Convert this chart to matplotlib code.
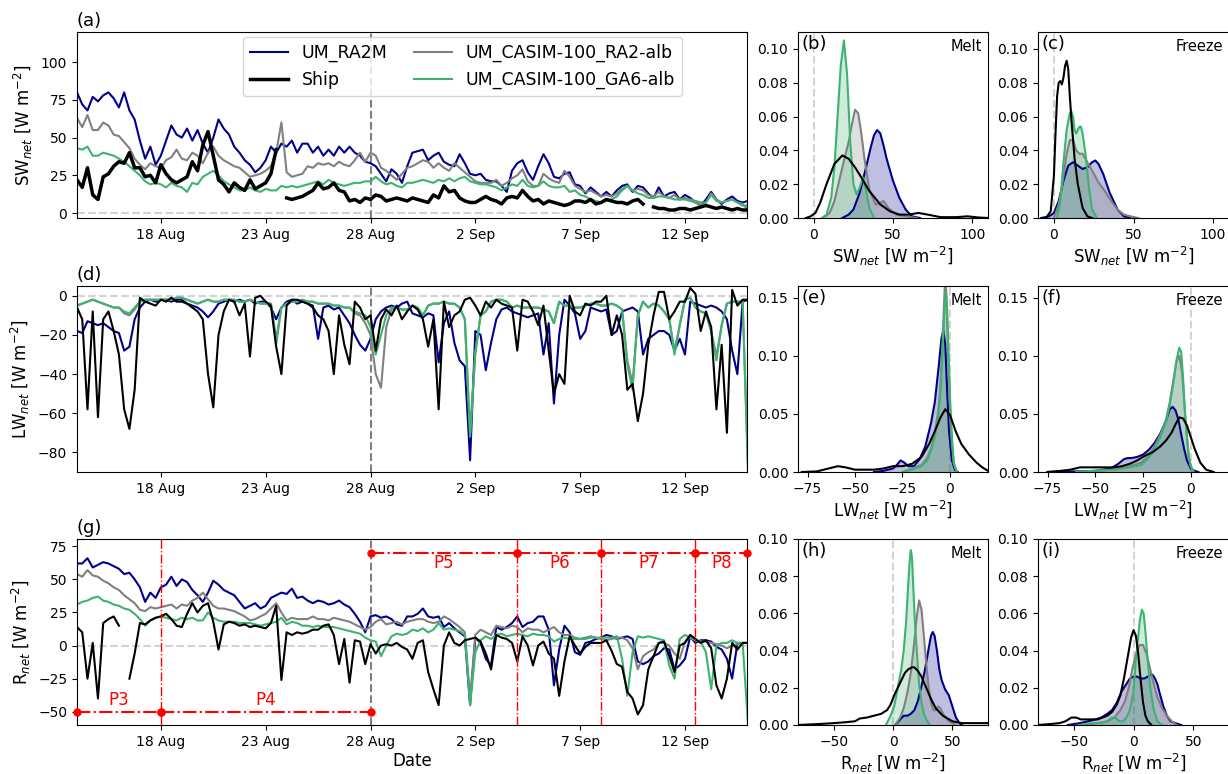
import numpy as np
import pandas as pd
import matplotlib
matplotlib.use('Agg')
import matplotlib.pyplot as plt
import matplotlib.dates as mdates

# 6-hourly time axis, 14 Aug - 15 Sep 2018
times = pd.date_range('2018-08-14', periods=129, freq='6h')
nan = np.nan

# ---- SW net (panel a) ----
sw_ra2m = [80, 72, 68, 77, 74, 78, 80, 76, 70, 80, 68, 62, 48, 36, 44, 32,
           38, 48, 58, 52, 50, 56, 48, 55, 46, 40, 50, 62, 56, 52, 44, 40,
           35, 32, 27, 30, 35, 44, 40, 46, 44, 48, 40, 46, 46, 40, 44, 38,
           42, 38, 44, 40, 44, 40, 38, 34, 33, 31, 26, 21, 29, 26, 20, 31,
           40, 41, 42, 35, 38, 40, 34, 32, 31, 39, 33, 26, 25, 26, 22, 21,
           21, 18, 14, 28, 33, 35, 27, 22, 31, 39, 33, 24, 23, 26, 27, 19,
           18, 13, 17, 14, 11, 14, 11, 15, 18, 19, 14, 18, 17, 13, 10, 17,
           11, 13, 14, 9, 12, 10, 7, 5, 9, 14, 9, 6, 9, 11, 8, 7, 8]
sw_casim_ra2 = [63, 57, 65, 55, 55, 60, 58, 52, 51, 47, 43, 36, 32, 29, 33, 31,
                30, 35, 37, 42, 36, 35, 40, 38, 33, 40, 44, 38, 35, 33, 31, 30,
                27, 24, 25, 26, 28, 31, 40, 60, 27, 24, 25, 26, 31, 30, 33, 32,
                33, 31, 34, 32, 31, 35, 40, 34, 40, 38, 30, 28, 25, 22, 26, 30,
                31, 33, 35, 34, 30, 33, 30, 28, 33, 30, 27, 24, 21, 20, 20, 20,
                22, 18, 20, 23, 25, 29, 21, 18, 18, 26, 23, 21, 20, 28, 24, 18,
                16, 14, 15, 13, 11, 12, 11, 13, 16, 18, 15, 16, 15, 12, 11, 14,
                11, 10, 12, 9, 10, 9, 8, 7, 7, 13, 9, 7, 8, 9, 7, 5, 5]
sw_casim_ga6 = [43, 42, 44, 38, 38, 40, 39, 38, 36, 34, 31, 28, 25, 21, 19, 20,
                19, 17, 20, 18, 17, 14, 20, 19, 24, 26, 28, 25, 21, 19, 17, 15,
                15, 17, 15, 14, 16, 15, 15, 18, 17, 18, 17, 18, 19, 20, 21, 19,
                22, 20, 19, 18, 19, 20, 20, 21, 21, 24, 21, 19, 20, 18, 17, 20,
                20, 21, 22, 21, 20, 22, 21, 23, 21, 23, 24, 21, 20, 19, 19, 18,
                17, 15, 17, 19, 18, 22, 18, 17, 18, 21, 18, 17, 17, 18, 14, 15,
                12, 11, 9, 8, 7, 8, 9, 11, 15, 18, 15, 13, 12, 10, 10, 11,
                11, 10, 9, 9, 9, 8, 7, 5, 7, 12, 8, 7, 8, 9, 7, 6, 2]
sw_ship = [22, 17, 30, 12, 9, 24, 26, 31, 34, 33, 40, 30, 30, 24, 25, 20,
           32, 26, 22, 20, 22, 24, 34, 28, 45, 54, 38, 22, 19, 14, 20, 17,
           15, 22, 16, 18, 20, 26, 42, nan, 10, 9, 10, 11, 13, 15, 20, 16,
           17, 20, 15, 14, 8, 9, 7, 10, 9, 12, 11, 8, 9, 10, 9, 8,
           10, 9, 8, 7, 12, 10, 18, 14, 15, 10, 8, 7, 7, 9, 11, 9,
           8, 6, 10, 11, 10, 15, 11, 8, 9, 6, 8, 7, 6, 5, 6, 8,
           8, 7, 9, 6, 7, 9, 8, 7, 7, 6, 8, 9, 6, nan, 4, 3,
           3, 2, 2, 3, 3, 2, 3, 4, 5, 4, 3, 4, 3, 2, 3, 2, 2]

# ---- LW net (panel d) ----
lw_ra2m = [-18, -19, -13, -14, -15, -14, -16, -18, -19, -28, -26, -12, -6, -3, -2, -3,
           -2, -2, -3, -2, -2, -4, -5, -6, -8, -11, -8, -4, -3, -2, -3, -2,
           -3, -2, -4, -3, -3, -6, -12, -6, -3, -2, -4, -3, -4, -5, -22, -6,
           -5, -7, -6, -10, -14, -20, -25, -28, -22, -12, -8, -6, -5, -6, -4, -3,
           -9, -10, -11, -9, -10, -34, -14, -8, -24, -33, -36, -84, -18, -20, -38, -24,
           -12, -7, -6, -8, -9, -10, -11, -10, -9, -30, -14, -55, -20, -2, -5, -9,
           -22, -18, -6, -7, -8, -7, -20, -18, -8, -7, -6, -8, -30, -22, -20, -18,
           -18, -20, -28, -22, -30, -3, -4, -5, -6, -5, -6, -8, -12, -28, -40, -3, -2]
lw_casim_ra2 = [-5, -4, -3, -2, -3, -4, -5, -6, -6, -9, -10, -7, -3, -2, -2, -2,
                -2, -2, -2, -1, -1, -2, -3, -4, -3, -2, -3, -3, -2, -2, -2, -3,
                -3, -2, -3, -4, -4, -4, -22, -6, -4, -3, -3, -2, -3, -3, -4, -4,
                -4, -5, -5, -6, -6, -9, -10, -14, -20, -40, -47, -16, -7, -6, -7, -7,
                -5, -6, -10, -5, -4, -4, -3, -4, -4, -6, -12, -70, -28, -10, -8, -3,
                -2, -2, -3, -6, -5, -6, -6, -6, -6, -7, -8, -14, -3, -5, -5, -6,
                -6, -5, -4, -4, -5, -5, -4, -5, -7, -33, -45, -10, -3, -6, -4, -5,
                -8, -12, -28, -15, -2, -1, -6, -8, -9, -18, -31, -15, -4, -3, -3, -3, -85]
lw_casim_ga6 = [-5, -4, -3, -2, -3, -4, -5, -6, -6, -8, -9, -6, -3, -2, -2, -2,
                -2, -2, -2, -1, -1, -2, -3, -4, -3, -2, -3, -3, -2, -2, -2, -3,
                -3, -2, -3, -4, -4, -4, -25, -6, -4, -3, -3, -2, -3, -3, -4, -4,
                -4, -5, -5, -6, -6, -8, -9, -10, -16, -30, -20, -10, -6, -6, -7, -7,
                -5, -6, -10, -5, -4, -4, -3, -4, -4, -6, -12, -72, -30, -10, -8, -3,
                -2, -2, -3, -6, -5, -6, -6, -6, -6, -7, -8, -14, -3, -5, -5, -6,
                -6, -5, -4, -4, -5, -5, -4, -5, -7, -35, -48, -10, -3, -6, -4, -5,
                -8, -12, -30, -15, -2, -1, -6, -8, -9, -18, -33, -15, -4, -3, -3, -3, -88]
lw_ship = [-6, -12, -58, -8, -62, -12, -8, -18, -30, -58, -68, -48, -1, -3, -4, -5,
           -2, -3, -1, -3, -3, -4, -6, -8, -12, -40, -57, -20, -8, -2, -3, -10,
           -4, -31, -1, 0, -3, -5, -26, -40, -5, -2, -2, -3, -4, -6, -10, -12,
           -18, -40, -10, -25, -35, -3, -6, -12, -10, -28, -12, -7, -10, -5, -12, -8,
           -5, -7, -12, -26, -12, -58, -3, -16, -10, -8, -2, -1, -5, -10, -3, -6,
           -2, -4, -5, -6, -28, -2, -3, -8, -15, -5, -28, -50, -40, -45, 0, -8,
           -10, -4, -5, -3, -3, 0, -20, -10, -20, -48, -45, -64, -50, -25, -10, 2,
           2, -12, -8, -3, -3, 4, 1, -18, -8, -16, -58, -25, -70, 3, -5, -2, -2]

# ---- R net (panel g) ----
r_ra2m = [62, 62, 66, 59, 61, 63, 62, 60, 58, 54, 55, 50, 44, 33, 40, 36,
          44, 46, 52, 45, 50, 48, 42, 38, 33, 40, 49, 46, 42, 40, 38, 33,
          28, 30, 32, 28, 30, 36, 38, 40, 39, 43, 36, 37, 34, 32, 34, 33,
          31, 32, 34, 31, 29, 24, 18, 10, 22, 23, 21, 22, 20, 16, 15, 22,
          22, 24, 28, 22, 21, 22, 14, 17, 13, 10, 7, -45, 6, 2, -10, -15,
          14, 12, 14, 17, 22, 14, 17, 18, 22, 22, 12, -30, -3, 15, 10, -5,
          -7, 2, 3, 5, 6, 8, 7, 5, 6, 7, 5, -12, -14, -12, -8, -6,
          -2, -3, -18, -15, -10, 7, 2, 4, 4, 3, -1, -3, -10, -25, 2, 2, 2]
r_casim_ra2 = [54, 52, 57, 53, 52, 49, 47, 44, 42, 38, 35, 32, 27, 26, 29, 28,
               29, 30, 31, 28, 31, 30, 34, 36, 40, 35, 30, 28, 28, 27, 26, 24,
               22, 19, 20, 22, 24, 28, 32, 25, 19, 21, 20, 20, 20, 22, 20, 20,
               19, 21, 20, 19, 18, 16, 14, 12, 14, 18, 20, 16, 17, 18, 16, 18,
               19, 20, 20, 18, 17, 18, 22, 20, 17, 14, 10, -40, 8, 12, 10, 8,
               15, 14, 13, 15, 14, 10, 13, 12, 12, 10, 12, 14, 10, 8, 8, 6,
               5, 6, 7, 6, 5, 4, 5, 6, 6, 4, -2, -18, -8, -5, -3, 2,
               2, 0, -6, -10, 3, 8, 4, 3, 3, 2, 1, 0, -2, 0, 1, 2, 2]
r_casim_ga6 = [31, 33, 34, 36, 37, 34, 33, 31, 30, 28, 27, 24, 20, 15, 19, 21,
               22, 21, 20, 19, 21, 20, 21, 19, 19, 25, 21, 19, 18, 18, 18, 17,
               17, 17, 16, 15, 16, 17, 18, 21, 16, 18, 17, 15, 15, 14, 15, 14,
               14, 14, 13, 12, 11, 10, 9, 6, 4, 3, -8, 0, 7, 9, 8, 9,
               12, 11, 13, 10, 12, 17, 12, 13, 12, 11, 8, -45, -5, 4, 7, 5,
               8, 9, 7, 8, 9, 8, 7, 9, 8, 8, 7, 3, 5, 6, 5, 5,
               5, 5, 6, 6, 6, 6, 6, 7, -10, -38, -5, 7, 6, 7, 6, 5,
               4, -15, -25, 5, 8, 6, 4, 3, -5, -33, 0, 2, 2, 4, 2, 2, -58]
r_ship = [14, 10, -25, 2, -40, 17, 20, 22, 15, nan, -25, -6, 17, 16, 19, 21,
          22, 24, 20, 15, 14, 24, 32, 25, 30, 32, 18, -3, 16, 18, 17, 15,
          16, 14, 15, 14, 13, 17, 30, -26, 10, 8, 10, 9, 10, 12, 12, 15,
          16, 8, -14, 5, -28, 4, 3, -14, 1, -6, 0, 1, 0, 2, -1, -3,
          -10, 2, 4, -20, -33, -45, 0, 10, 2, 0, 4, 5, 6, 3, -6, -18,
          8, 6, 5, 2, -12, 7, 0, -15, 0, 3, -6, -10, -38, -12, 7, 0,
          -6, -1, 2, 2, 2, 4, -4, -14, -16, -35, -40, -52, -45, -18, -8, 2,
          3, -8, -20, 0, 2, 8, 5, 2, 4, -2, -30, -40, -25, 2, -3, 2, 2]

# ---- density curves ----
sw_melt = {
    'ra2m': ([18, 22, 25, 29, 33, 36, 38, 40, 42, 44, 46, 50, 54, 58, 62, 67],
             [0, 0.002, 0.005, 0.015, 0.03, 0.042, 0.049, 0.052, 0.05, 0.043, 0.035, 0.022, 0.012, 0.005, 0.001, 0]),
    'ra2': ([6, 10, 13, 16, 19, 22, 24, 26, 28, 30, 32, 35, 39, 42, 44, 47, 52, 58, 65],
            [0, 0.003, 0.01, 0.022, 0.034, 0.045, 0.055, 0.064, 0.062, 0.05, 0.035, 0.017, 0.008, 0.009, 0.01, 0.006, 0.002, 0.001, 0]),
    'ga6': ([5, 8, 11, 13, 15, 17, 19, 21, 23, 25, 27, 29, 31, 33, 35, 38],
            [0, 0.002, 0.012, 0.03, 0.06, 0.09, 0.105, 0.085, 0.045, 0.02, 0.014, 0.018, 0.024, 0.016, 0.006, 0]),
    'ship': ([-5, -2, 1, 4, 8, 13, 18, 22, 26, 30, 35, 42, 48, 54, 60, 66, 72, 80, 90, 97, 104, 110],
             [0, 0.001, 0.003, 0.009, 0.02, 0.032, 0.037, 0.035, 0.03, 0.024, 0.016, 0.008, 0.004, 0.002, 0.002, 0.003, 0.002, 0.0005, 0.0005, 0.001, 0.0003, 0]),
}
sw_freeze = {
    'ra2m': ([-8, -3, 0, 3, 6, 9, 12, 15, 18, 21, 24, 26, 28, 31, 35, 40, 44, 48],
             [0, 0.001, 0.003, 0.01, 0.022, 0.031, 0.033, 0.031, 0.029, 0.03, 0.033, 0.034, 0.032, 0.026, 0.015, 0.005, 0.001, 0]),
    'ra2': ([0, 3, 5, 8, 10, 12, 14, 16, 18, 21, 24, 28, 32, 36, 40, 44, 48, 53],
            [0, 0.008, 0.018, 0.038, 0.046, 0.046, 0.04, 0.038, 0.038, 0.033, 0.028, 0.021, 0.016, 0.01, 0.005, 0.002, 0.001, 0]),
    'ga6': ([2, 4, 6, 8, 10, 11, 12, 13, 14, 15, 16, 17, 18, 20, 22, 24, 27],
            [0, 0.01, 0.033, 0.052, 0.062, 0.063, 0.06, 0.052, 0.05, 0.052, 0.054, 0.054, 0.05, 0.037, 0.018, 0.005, 0]),
    'ship': ([-5, -2, 0, 1, 2, 3, 4, 5, 6, 7, 8, 9, 10, 11, 13, 15, 18, 21, 24],
             [0, 0.004, 0.025, 0.05, 0.072, 0.08, 0.081, 0.079, 0.083, 0.09, 0.093, 0.088, 0.072, 0.058, 0.035, 0.02, 0.006, 0.001, 0]),
}
lw_melt = {
    'ra2m': ([-40, -35, -30, -28, -26, -24, -22, -19, -16, -13, -10, -8, -6, -4.5, -3.5, -2.5, -1.5, -0.5, 1, 2.5, 4],
             [0, 0.001, 0.003, 0.006, 0.01, 0.008, 0.005, 0.005, 0.011, 0.022, 0.042, 0.06, 0.09, 0.115, 0.122, 0.11, 0.07, 0.035, 0.01, 0.002, 0]),
    'ra2': ([-25, -20, -15, -12, -10, -8, -6, -5, -4, -3, -2.5, -1.8, -1, 0, 1, 2, 3.5],
            [0, 0.003, 0.006, 0.012, 0.02, 0.033, 0.055, 0.075, 0.11, 0.15, 0.17, 0.15, 0.1, 0.055, 0.025, 0.007, 0]),
    'ga6': ([-25, -20, -15, -12, -10, -8, -6, -5, -4, -3, -2.2, -1.5, -0.7, 0, 1, 2, 3.5],
            [0, 0.002, 0.005, 0.01, 0.018, 0.03, 0.05, 0.07, 0.1, 0.135, 0.155, 0.14, 0.1, 0.065, 0.03, 0.008, 0]),
    'ship': ([-78, -70, -64, -59, -55, -50, -45, -40, -35, -30, -25, -20, -15, -11, -8, -5, -2.5, 0, 3, 6, 10, 14, 17, 20],
             [0, 0.0005, 0.003, 0.005, 0.004, 0.002, 0.002, 0.002, 0.003, 0.005, 0.005, 0.007, 0.013, 0.024, 0.035, 0.047, 0.054, 0.049, 0.035, 0.024, 0.015, 0.008, 0.004, 0.001]),
}
lw_freeze = {
    'ra2m': ([-75, -60, -50, -42, -38, -35, -33, -31, -28, -25, -22, -19, -16, -13, -11, -9.5, -8, -6.5, -5, -3.5, -2, 0, 2, 4],
             [0, 0.0005, 0.001, 0.003, 0.007, 0.011, 0.012, 0.012, 0.013, 0.015, 0.019, 0.025, 0.033, 0.044, 0.054, 0.056, 0.053, 0.045, 0.032, 0.02, 0.01, 0.003, 0.001, 0]),
    'ra2': ([-60, -50, -40, -32, -26, -22, -19, -16, -13, -11, -9, -7.5, -6, -4.5, -3, -2, -1, 0, 1.5],
            [0, 0.001, 0.002, 0.005, 0.008, 0.014, 0.022, 0.032, 0.045, 0.06, 0.08, 0.095, 0.1, 0.085, 0.05, 0.03, 0.013, 0.005, 0]),
    'ga6': ([-60, -50, -40, -32, -26, -22, -19, -16, -13, -11, -9, -7.4, -6, -5, -4, -3, -2, -1, 0, 1.5],
            [0, 0.001, 0.002, 0.004, 0.006, 0.012, 0.02, 0.03, 0.043, 0.058, 0.078, 0.097, 0.107, 0.103, 0.08, 0.05, 0.03, 0.012, 0.005, 0]),
    'ship': ([-75, -68, -63, -58, -50, -45, -40, -36, -32, -28, -24, -20, -16, -13, -10, -8, -6, -4, -2, 0, 2, 5, 8, 12],
             [0, 0.001, 0.002, 0.004, 0.004, 0.004, 0.004, 0.005, 0.007, 0.01, 0.014, 0.017, 0.022, 0.027, 0.034, 0.041, 0.047, 0.046, 0.04, 0.03, 0.02, 0.008, 0.002, 0]),
}
r_melt = {
    'ra2m': ([2, 6, 9, 12, 15, 18, 21, 24, 27, 30, 32, 33.5, 35, 37, 39, 41, 44, 47, 50, 53, 56, 58],
             [0, 0.003, 0.005, 0.005, 0.006, 0.008, 0.013, 0.021, 0.03, 0.041, 0.048, 0.05, 0.048, 0.04, 0.03, 0.024, 0.019, 0.016, 0.01, 0.004, 0.001, 0]),
    'ra2': ([2, 6, 9, 12, 15, 18, 20, 22, 24, 26, 28, 30, 32, 34, 36, 38, 40, 43, 47, 53],
            [0, 0.004, 0.009, 0.017, 0.028, 0.045, 0.058, 0.067, 0.062, 0.048, 0.033, 0.02, 0.012, 0.008, 0.008, 0.01, 0.009, 0.005, 0.002, 0]),
    'ga6': ([-6, -2, 1, 4, 7, 9, 11, 12.5, 14, 15, 16, 17, 18.5, 20, 22, 24, 26, 28, 31],
            [0, 0.005, 0.01, 0.02, 0.03, 0.04, 0.055, 0.072, 0.088, 0.094, 0.09, 0.075, 0.055, 0.04, 0.022, 0.012, 0.006, 0.003, 0]),
    'ship': ([-80, -70, -60, -50, -40, -32, -28, -22, -16, -10, -5, -2, 1, 4, 7, 10, 13, 16, 18, 21, 24, 28, 32, 36, 42, 50, 58, 66, 74, 80],
             [0, 0.0003, 0.0006, 0.001, 0.0015, 0.002, 0.0035, 0.004, 0.005, 0.006, 0.008, 0.011, 0.016, 0.02, 0.024, 0.028, 0.03, 0.031, 0.031, 0.029, 0.026, 0.02, 0.014, 0.009, 0.005, 0.002, 0.001, 0.001, 0.001, 0.001]),
}
r_freeze = {
    'ra2m': ([-55, -45, -38, -32, -27, -22, -18, -14, -10, -6, -3, 0, 3, 6, 9, 12, 14, 16, 18, 20, 22, 25, 28, 31, 35, 40],
             [0, 0.001, 0.002, 0.003, 0.004, 0.006, 0.008, 0.012, 0.018, 0.022, 0.025, 0.026, 0.026, 0.025, 0.025, 0.026, 0.027, 0.027, 0.025, 0.022, 0.017, 0.01, 0.005, 0.002, 0.001, 0]),
    'ra2': ([-40, -30, -22, -16, -11, -7, -4, -1, 2, 5, 8, 11, 14, 17, 20, 24, 28, 32, 36],
            [0, 0.001, 0.002, 0.004, 0.008, 0.013, 0.02, 0.03, 0.038, 0.043, 0.043, 0.038, 0.03, 0.022, 0.015, 0.009, 0.005, 0.002, 0]),
    'ga6': ([-45, -35, -28, -22, -18, -15, -12, -9, -6, -3, 0, 2, 4, 5.5, 7, 8.5, 10, 12, 14, 17, 20, 24],
            [0, 0.001, 0.001, 0.002, 0.004, 0.004, 0.002, 0.002, 0.004, 0.008, 0.018, 0.035, 0.048, 0.057, 0.062, 0.06, 0.05, 0.034, 0.02, 0.008, 0.002, 0]),
    'ship': ([-80, -70, -62, -57, -52, -48, -44, -40, -35, -30, -26, -22, -18, -14, -11, -8, -5, -2, 0, 2, 4, 6, 8, 10, 12, 15],
             [0, 0.0005, 0.001, 0.002, 0.004, 0.004, 0.003, 0.003, 0.003, 0.003, 0.004, 0.005, 0.007, 0.011, 0.016, 0.025, 0.036, 0.047, 0.051, 0.048, 0.038, 0.024, 0.012, 0.005, 0.002, 0]),
}

# measurement periods (panel g)
period_names = ['P3', 'P4', 'P5', 'P6', 'P7', 'P8']
period_start = pd.to_datetime(['2018-08-14 00:00', '2018-08-18 00:00', '2018-08-28 00:00',
                               '2018-09-04 00:00', '2018-09-08 00:00', '2018-09-12 12:00'])
period_end = pd.to_datetime(['2018-08-18 00:00', '2018-08-28 00:00', '2018-09-04 00:00',
                             '2018-09-08 00:00', '2018-09-12 12:00', '2018-09-14 23:00'])
period_level = [-50, -50, 70, 70, 70, 70]

colors = {'ra2m': '#00008b', 'ra2': 'grey', 'ga6': 'mediumseagreen', 'ship': 'black'}
labels = {'ra2m': 'UM_RA2M', 'ra2': 'UM_CASIM-100_RA2-alb', 'ga6': 'UM_CASIM-100_GA6-alb', 'ship': 'Ship'}

melt_end = pd.Timestamp('2018-08-28')
xticks = pd.to_datetime(['2018-08-18', '2018-08-23', '2018-08-28', '2018-09-02', '2018-09-07', '2018-09-12'])

W, H = 1228., 774.
fig = plt.figure(figsize=(12.28, 7.74), dpi=100)
rows = [(32, 218), (286, 472), (539, 725)]


def add(x0, x1, row):
    top, bot = rows[row]
    return fig.add_axes([x0 / W, 1 - bot / H, (x1 - x0) / W, (bot - top) / H])


# ---------- time series ----------
ts = [
    ('(a)', 'SW$_{net}$ [W m$^{-2}$]', sw_ra2m, sw_casim_ra2, sw_casim_ga6, sw_ship, (-3.3, 120), [0, 25, 50, 75, 100]),
    ('(d)', 'LW$_{net}$ [W m$^{-2}$]', lw_ra2m, lw_casim_ra2, lw_casim_ga6, lw_ship, (-90, 5), [-80, -60, -40, -20, 0]),
    ('(g)', 'R$_{net}$ [W m$^{-2}$]', r_ra2m, r_casim_ra2, r_casim_ga6, r_ship, (-60, 80.5), [-50, -25, 0, 25, 50, 75]),
]
for i, (lab, ylab, a, b, g, s, ylim, yt) in enumerate(ts):
    ax = add(77, 747, i)
    ax.axhline(0, color='lightgrey', ls='--', lw=1.5, zorder=1)
    ax.axvline(melt_end, color='grey', ls='--', lw=1.5, zorder=1)
    l1, = ax.plot(times, a, color=colors['ra2m'], lw=1.5, label=labels['ra2m'])
    l2, = ax.plot(times, b, color=colors['ra2'], lw=1.5, label=labels['ra2'])
    l3, = ax.plot(times, g, color=colors['ga6'], lw=1.5, label=labels['ga6'])
    l4, = ax.plot(times, s, color='black', lw=2.5 if i == 0 else 1.5, label=labels['ship'])
    ax.set_xlim(pd.Timestamp('2018-08-14'), pd.Timestamp('2018-09-14 23:00'))
    ax.set_ylim(ylim)
    ax.set_yticks(yt)
    ax.set_xticks(xticks)
    ax.xaxis.set_major_formatter(mdates.DateFormatter('%-d %b'))
    ax.tick_params(labelsize=10)
    ax.set_ylabel(ylab, fontsize=12)
    ax.set_title(lab, loc='left', fontsize=13, pad=4)
    if i == 0:
        ax.legend([l1, l4, l2, l3], [labels['ra2m'], labels['ship'], labels['ra2'], labels['ga6']],
                  ncol=2, fontsize=12.5, loc='upper center', bbox_to_anchor=(0.575, 1.02),
                  columnspacing=1.5, handlelength=2.2)
    if i == 2:
        ax.set_xlabel('Date', fontsize=12, labelpad=2)
        for k in range(len(period_names)):
            ax.plot([period_start[k], period_end[k]], [period_level[k]] * 2, color='red', ls='-.',
                    lw=1.5, marker='o', ms=5, clip_on=False, zorder=5)
            mid = period_start[k] + (period_end[k] - period_start[k]) / 2
            ty = period_level[k] + 9 if period_level[k] < 0 else period_level[k] - 8
            ax.text(mid, ty, period_names[k], color='red', fontsize=12, ha='center', va='center')
        for d in ['2018-08-18 00:00', '2018-09-04 00:00', '2018-09-08 00:00', '2018-09-12 12:00']:
            ax.axvline(pd.Timestamp(d), color='red', ls='-.', lw=1)

# ---------- density panels ----------
kd = [
    (sw_melt, '(b)', 'Melt', 0, 'SW$_{net}$ [W m$^{-2}$]', (-10, 110), (0, 0.11), [0, 0.02, 0.04, 0.06, 0.08, 0.10], [0, 50, 100]),
    (sw_freeze, '(c)', 'Freeze', 0, 'SW$_{net}$ [W m$^{-2}$]', (-10, 110), (0, 0.11), [0, 0.02, 0.04, 0.06, 0.08, 0.10], [0, 50, 100]),
    (lw_melt, '(e)', 'Melt', 1, 'LW$_{net}$ [W m$^{-2}$]', (-80, 20), (0, 0.16), [0, 0.05, 0.10, 0.15], [-75, -50, -25, 0]),
    (lw_freeze, '(f)', 'Freeze', 1, 'LW$_{net}$ [W m$^{-2}$]', (-80, 20), (0, 0.16), [0, 0.05, 0.10, 0.15], [-75, -50, -25, 0]),
    (r_melt, '(h)', 'Melt', 2, 'R$_{net}$ [W m$^{-2}$]', (-80, 80), (0, 0.10), [0, 0.02, 0.04, 0.06, 0.08, 0.10], [-50, 0, 50]),
    (r_freeze, '(i)', 'Freeze', 2, 'R$_{net}$ [W m$^{-2}$]', (-80, 80), (0, 0.10), [0, 0.02, 0.04, 0.06, 0.08, 0.10], [-50, 0, 50]),
]
for data, lab, season, row, xlab, xlim, ylim, yt, xt in kd:
    if season == 'Melt':
        ax = add(798, 988, row)
    else:
        ax = add(1038, 1229, row)
    ax.axvline(0, color='lightgrey', ls='--', lw=1.5, zorder=1)
    for key in ['ra2m', 'ra2', 'ga6']:
        x, y = data[key]
        ax.fill_between(x, y, color=colors[key], alpha=0.25, lw=0)
        ax.plot(x, y, color=colors[key], lw=1.5)
    x, y = data['ship']
    ax.plot(x, y, color='black', lw=1.5)
    ax.set_xlim(xlim)
    ax.set_ylim(ylim)
    ax.set_yticks(yt)
    ax.yaxis.set_major_formatter(plt.FormatStrFormatter('%.2f'))
    ax.set_xticks(xt)
    ax.tick_params(labelsize=10)
    ax.set_xlabel(xlab, fontsize=12, labelpad=2)
    ax.text(0.02, 0.985, lab, transform=ax.transAxes, fontsize=13, va='top', ha='left')
    ax.text(0.97, 0.96, season, transform=ax.transAxes, fontsize=10.5, va='top', ha='right')

fig.savefig('out.png', dpi=100)
